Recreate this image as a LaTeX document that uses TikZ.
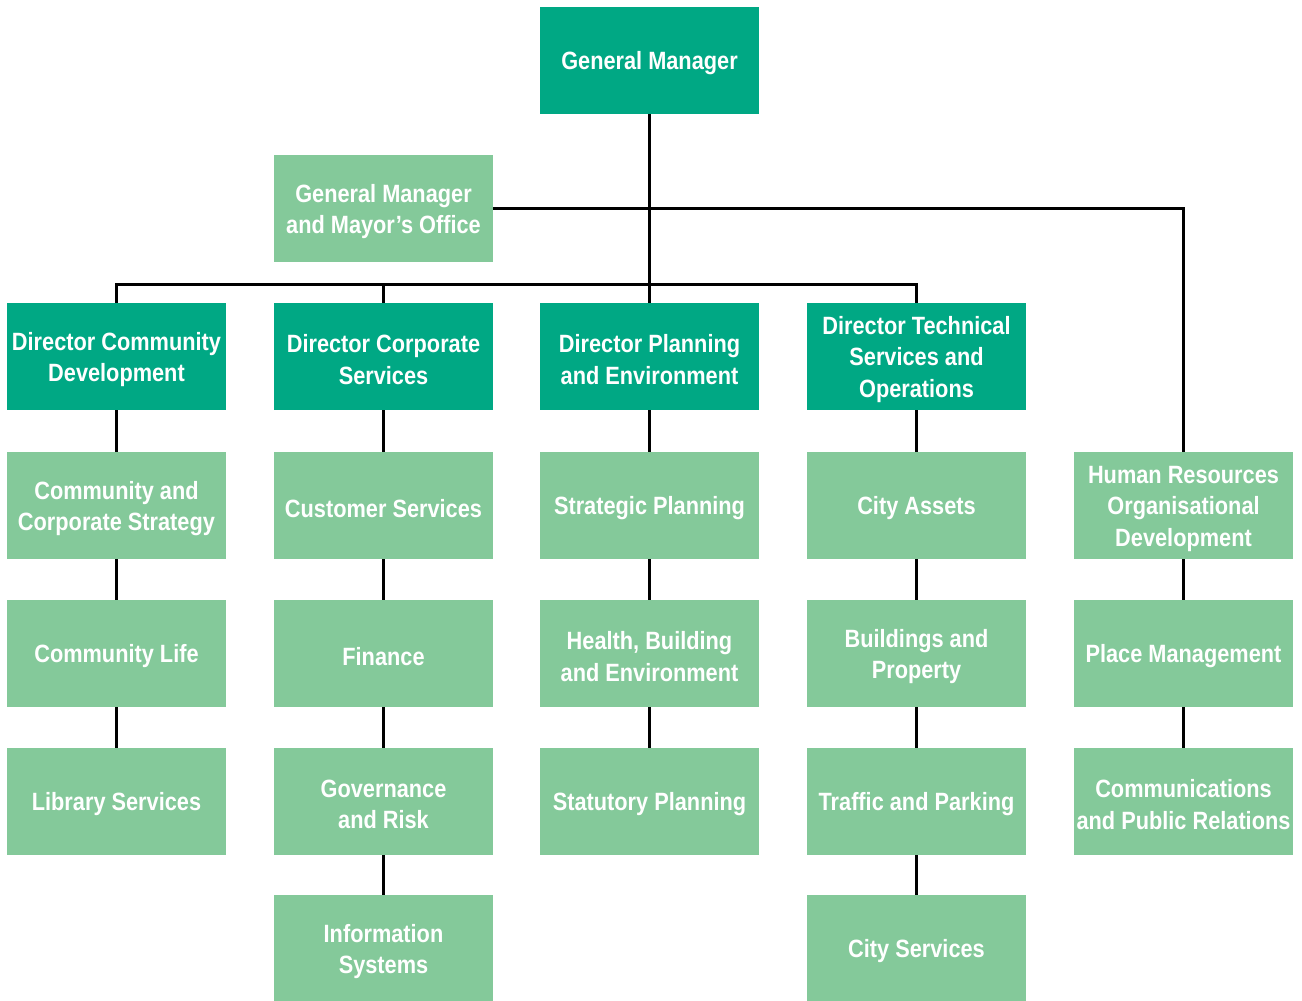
\documentclass[tikz,border=0pt]{standalone}
\usepackage{fontspec}
\setmainfont{Liberation Sans}[FakeStretch=0.87]
\definecolor{darkg}{RGB}{0,168,132}
\definecolor{lightg}{RGB}{132,201,154}
\begin{document}
\begin{tikzpicture}[x=1pt,y=-1pt,
  box/.style={minimum width=219pt,minimum height=107pt,inner sep=0pt},
  lab/.style={inner sep=0pt,align=center,yshift=-3pt,text=white,
    font=\fontsize{25}{31.5}\selectfont\bfseries},
  dark/.style={box,fill=darkg},
  light/.style={box,fill=lightg},
  conn/.style={line width=3pt,black}]
\newcommand{\bx}[4]{\node[#1,label={[lab]center:{#4}}] (#2) at #3 {};}
\useasboundingbox (0,0) rectangle (1302,1001);
\coordinate (hl) at (116.5,284);
\coordinate (hr) at (916.5,284);
\coordinate (mr) at (1183.5,208.5);
\bx{dark}{gm}{(649.5,60.5)}{General Manager}
\bx{light}{gmo}{(383.5,208.5)}{General Manager\\and Mayor’s Office}
\bx{dark}{d1}{(116.5,356.5)}{Director Community\\Development}
\bx{dark}{d2}{(383.5,356.5)}{Director Corporate\\Services}
\bx{dark}{d3}{(649.5,356.5)}{Director Planning\\and Environment}
\bx{dark}{d4}{(916.5,356.5)}{Director Technical\\Services and\\Operations}
\bx{light}{a1}{(116.5,505.5)}{Community and\\Corporate Strategy}
\bx{light}{a2}{(116.5,653.5)}{Community Life}
\bx{light}{a3}{(116.5,801.5)}{Library Services}
\bx{light}{b1}{(383.5,505.5)}{Customer Services}
\bx{light}{b2}{(383.5,653.5)}{Finance}
\bx{light}{b3}{(383.5,801.5)}{Governance\\and Risk}
\bx{light}{b4}{(383.5,948.5)}{Information\\Systems}
\bx{light}{c1}{(649.5,505.5)}{Strategic Planning}
\bx{light}{c2}{(649.5,653.5)}{Health, Building\\and Environment}
\bx{light}{c3}{(649.5,801.5)}{Statutory Planning}
\bx{light}{e1}{(916.5,505.5)}{City Assets}
\bx{light}{e2}{(916.5,653.5)}{Buildings and\\Property}
\bx{light}{e3}{(916.5,801.5)}{Traffic and Parking}
\bx{light}{e4}{(916.5,948.5)}{City Services}
\bx{light}{f1}{(1183.5,505.5)}{Human Resources\\Organisational\\Development}
\bx{light}{f2}{(1183.5,653.5)}{Place Management}
\bx{light}{f3}{(1183.5,801.5)}{Communications\\and Public Relations}
\draw[conn] (gm.south) -- (d3.north);
\draw[conn] (d1.north) -- (hl) -- (hr) -- (d4.north);
\draw[conn] (d2.north) -- (d2.north |- hl);
\draw[conn] (gmo.east) -- (mr) -- (f1.north);
\draw[conn] (d1) -- (a1); \draw[conn] (a1) -- (a2); \draw[conn] (a2) -- (a3);
\draw[conn] (d2) -- (b1); \draw[conn] (b1) -- (b2); \draw[conn] (b2) -- (b3); \draw[conn] (b3) -- (b4);
\draw[conn] (d3) -- (c1); \draw[conn] (c1) -- (c2); \draw[conn] (c2) -- (c3);
\draw[conn] (d4) -- (e1); \draw[conn] (e1) -- (e2); \draw[conn] (e2) -- (e3); \draw[conn] (e3) -- (e4);
\draw[conn] (f1) -- (f2); \draw[conn] (f2) -- (f3);
\end{tikzpicture}
\end{document}
